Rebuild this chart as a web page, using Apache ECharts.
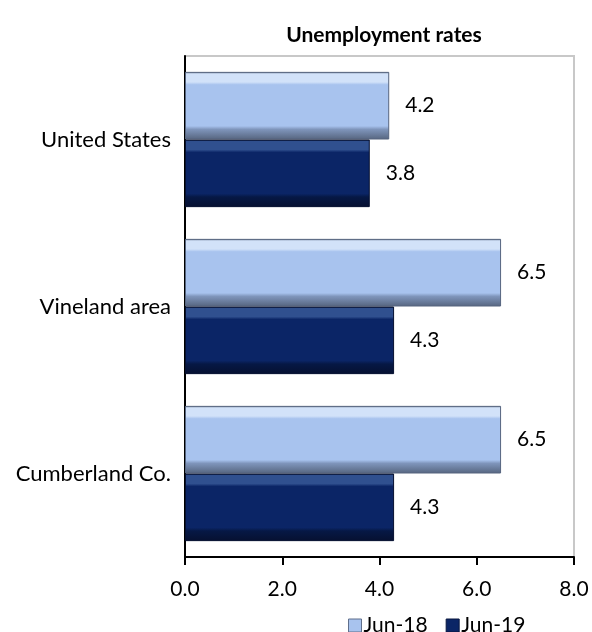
<!DOCTYPE html>
<html>
<head>
<meta charset="utf-8">
<script src="https://cdn.jsdelivr.net/npm/echarts@6/dist/echarts.min.js"></script>
<style>html,body{margin:0;padding:0;background:#fff;}#c{width:592px;height:632px;}</style>
</head>
<body>
<div id="c"></div>
<script>
const categories = ['Cumberland Co.', 'Vineland area', 'United States'];
const jun18 = [6.5, 6.5, 4.2];
const jun19 = [4.3, 4.3, 3.8];
const xTicks = [0, 2, 4, 6, 8];
const seriesNames = ['Jun-18', 'Jun-19'];

const font = 'Lato, "Open Sans", sans-serif';
function bevel(light, mid, dark, edge) {
  return {
    type: 'linear', x: 0, y: 0, x2: 0, y2: 1,
    colorStops: [
      {offset: 0, color: edge},
      {offset: 0.03, color: light},
      {offset: 0.15, color: light},
      {offset: 0.19, color: mid},
      {offset: 0.8, color: mid},
      {offset: 0.85, color: dark},
      {offset: 1, color: edge}
    ]
  };
}
const chart = echarts.init(document.getElementById('c'), null, {renderer: 'canvas'});
chart.setOption({
  animation: false,
  backgroundColor: '#fff',
  title: {
    text: 'Unemployment rates', left: 379, top: 20, textAlign: 'center',
    textStyle: {fontFamily: font, fontSize: 21, fontWeight: 'bold', color: '#000'}
  },
  legend: {
    data: [
      {name: 'Jun-18', itemStyle: {color: '#a8c3ee', borderColor: '#5f6f8c', borderWidth: 1}},
      {name: 'Jun-19', itemStyle: {color: '#0b2566', borderColor: '#08163f', borderWidth: 1}}
    ],
    left: 343, top: 610, itemWidth: 13, itemHeight: 13, itemGap: 18,
    icon: 'rect',
    textStyle: {fontFamily: font, fontSize: 21, color: '#000', padding: [0, 0, 0, -3]}
  },
  grid: {left: 185, right: 18, top: 56, bottom: 75, show: true, borderColor: '#c8c8c8', borderWidth: 2, containLabel: false},
  xAxis: {
    type: 'value', min: xTicks[0], max: xTicks[xTicks.length - 1], interval: 2,
    axisLine: {show: true, lineStyle: {color: '#000', width: 2}},
    axisTick: {show: true, length: 8, lineStyle: {color: '#000', width: 2}},
    splitLine: {show: false},
    axisLabel: {fontFamily: font, fontSize: 21, color: '#000', margin: 22, formatter: v => v.toFixed(1)}
  },
  yAxis: {
    type: 'category', data: categories,
    axisLine: {show: true, lineStyle: {color: '#000', width: 2}},
    axisTick: {show: false},
    axisLabel: {fontFamily: font, fontSize: 22, color: '#000', margin: 14}
  },
  series: [
    {
      name: 'Jun-18', type: 'bar', data: jun18, barGap: '0%', barCategoryGap: '19%',
      itemStyle: {color: bevel('#d2e2f9', '#a8c3ee', '#7f95bb', '#56657f'), borderColor: '#56657f', borderWidth: 1},
      label: {show: true, position: 'right', distance: 16, fontFamily: font, fontSize: 21, color: '#000', formatter: p => p.value.toFixed(1)}
    },
    {
      name: 'Jun-19', type: 'bar', data: jun19, barGap: '0%', barCategoryGap: '19%',
      itemStyle: {color: bevel('#30508f', '#0b2566', '#061845', '#061030'), borderColor: '#061030', borderWidth: 1},
      label: {show: true, position: 'right', distance: 16, fontFamily: font, fontSize: 21, color: '#000', formatter: p => p.value.toFixed(1)}
    }
  ]
});
</script>
</body>
</html>
